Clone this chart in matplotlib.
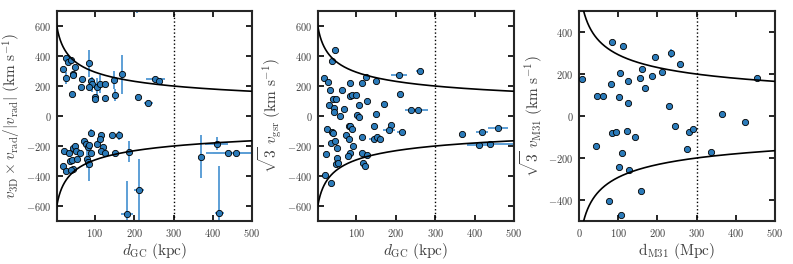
import matplotlib
matplotlib.use('Agg')
import matplotlib.pyplot as plt
import numpy as np

plt.rcParams['mathtext.fontset'] = 'cm'
plt.rcParams['font.family'] = 'serif'
plt.rcParams['font.serif'] = ['cmr10']
plt.rcParams['axes.formatter.use_mathtext'] = True
plt.rcParams['axes.unicode_minus'] = True

# panel 1: v3D * sign(vrad) vs dGC
x1 = [18, 27, 32, 38, 27, 43, 45, 49, 41, 67, 63, 85, 89, 91, 84, 99, 101, 105, 113, 125,
      125, 148, 152, 169, 210, 236, 254, 262, 207,
      21, 33, 19, 25, 35, 41, 45, 38, 45, 50, 51, 54, 61, 71, 78, 81, 85, 80, 82, 85,
      89, 89, 106, 114, 112, 120, 116, 126, 144, 151, 160, 186, 182, 212, 371, 410,
      440, 460, 417]
y1 = [316, 389, 360, 373, 256, 280, 271, 329, 147, 249, 196, 351, 233, 211, 191, 129, 111,
      193, 216, 216, 122, 240, 142, 278, 129, 85, 249, 236, 750,
      -233, -247, -333, -367, -300, -295, -355, -360, -211, -200, -235, -284, -247, -169,
      -189, -207, -191, -284, -307, -322, -111, -244, -184, -129, -155, -209, -233, -244,
      -129, -244, -129, -238, -655, -491, -271, -184, -244, -244, -644]
xerr1 = [0, 0, 0, 0, 0, 0, 0, 0, 0, 0, 0, 0, 0, 0, 0, 0, 0, 0, 0, 0,
         0, 0, 0, 0, 0, 12, 25, 8, 0,
         0, 0, 0, 0, 0, 0, 0, 0, 0, 0, 0, 0, 0, 0, 0, 0, 0, 0, 0, 0,
         0, 0, 0, 0, 0, 0, 0, 0, 0, 0, 0, 0, 15, 12, 0, 30,
         57, 60, 12]
yerr1 = [0, 0, 0, 0, 40, 0, 0, 0, 0, 0, 0, 90, 0, 50, 0, 0, 0, 60, 60, 0,
         0, 60, 40, 130, 0, 0, 0, 0, 60,
         0, 0, 0, 0, 0, 0, 0, 0, 0, 0, 0, 0, 0, 0, 0, 0, 0, 65, 0, 110,
         25, 0, 0, 0, 0, 0, 0, 0, 0, 0, 30, 70, 220, 207, 145, 45,
         0, 0, 310]

# panel 2: sqrt(3) vgsr vs dGC
x2 = [19, 28, 34, 30, 38, 46, 42, 49, 44, 44, 60, 65, 68, 85, 83, 90, 100, 106, 102, 107,
      114, 125, 126, 149, 170, 151, 209, 211, 262, 238, 257,
      27, 38, 42, 35, 45, 52, 52, 48, 54, 24, 21, 35, 73, 81, 85, 88, 81, 92, 85, 79,
      115, 115, 116, 123, 128, 144, 144, 152, 160, 187, 183, 215, 369, 418, 460, 410, 440]
y2 = [251, 227, 173, 76, 364, 440, 111, 116, 56, 29, -2, 171, 49, 222, 133, 140, 140, 76,
      4, -7, 222, 260, 98, 231, 82, 16, 271, 144, 300, 42, 38,
      -84, -104, -111, -178, -167, -216, -280, -318, -316, -253, -391, -447, -129, -67,
      -67, -89, -151, -200, -249, -264, -140, -249, -311, -333, -258, -69, -151, -140,
      -156, -58, -96, -107, -120, -104, -78, -191, -184]
xerr2 = [0, 0, 0, 0, 0, 0, 0, 0, 0, 0, 0, 0, 0, 0, 0, 6, 0, 0, 0, 0,
         0, 0, 0, 0, 0, 0, 20, 0, 10, 15, 25,
         0, 0, 0, 0, 0, 0, 0, 0, 0, 0, 0, 0, 0, 0, 0, 0, 0, 0, 0, 0,
         0, 0, 0, 0, 10, 0, 12, 0, 0, 0, 15, 12, 0, 15, 25, 30, 60]

# panel 3: sqrt(3) vM31 vs dM31
x3 = [7, 85, 113, 194, 236, 259, 82, 106, 124, 156, 160, 187, 213, 168, 46, 61, 102, 126,
      230, 455, 366, 424, 246, 281, 291, 85, 94, 122, 144, 43, 109, 277, 338, 103, 127,
      159, 78, 107]
y3 = [175, 354, 335, 281, 298, 246, 152, 206, 168, 183, 224, 190, 211, 135, 94, 94, 92, 60,
      49, 183, 10, -29, -46, -74, -60, -83, -78, -71, -98, -143, -178, -156, -171, -244,
      -257, -356, -403, -470]
yerr3 = [0, 0, 0, 0, 22, 0, 0, 0, 0, 0, 0, 0, 0, 0, 0, 0, 0, 0,
         0, 0, 0, 0, 0, 0, 0, 0, 0, 0, 0, 0, 0, 0, 0, 0, 0,
         0, 0, 0]

# escape velocity curve (NFW-like), normalised to 200 km/s at 300 kpc
r_s = 8.0
v_at_300 = 200.0


def vesc(r):
    f = np.log(1 + r / r_s) / r
    f300 = np.log(1 + 300 / r_s) / 300
    return v_at_300 * np.sqrt(f / f300)


pt_color = '#2b7bba'
err_color = '#5d9fd6'
txt_color = '0.25'

fig = plt.figure(figsize=(7.93, 2.64), dpi=100)
ax1 = fig.add_axes([0.0719, 0.163, 0.2459, 0.795])
ax2 = fig.add_axes([0.401, 0.163, 0.2472, 0.795])
ax3 = fig.add_axes([0.730, 0.163, 0.2472, 0.795])

rr = np.linspace(0.3, 500, 1000)

panels = [
    (ax1, x1, y1, xerr1, yerr1, 700),
    (ax2, x2, y2, xerr2, [0] * len(x2), 700),
    (ax3, x3, y3, [0] * len(x3), yerr3, 500),
]
for ax, xs, ys, xe, ye, ylim in panels:
    ax.errorbar(xs, ys, xerr=xe, yerr=ye, fmt='none', ecolor=err_color,
                elinewidth=1.4, capsize=0, zorder=2)
    ax.plot(xs, ys, 'o', ms=4.5, mfc=pt_color, mec='k', mew=0.6, zorder=3)
    ax.plot(rr, vesc(rr), 'k-', lw=1.2, zorder=4)
    ax.plot(rr, -vesc(rr), 'k-', lw=1.2, zorder=4)
    ax.axvline(300, color='k', ls=':', lw=1.0)
    ax.set_ylim(-ylim, ylim)
    ax.tick_params(direction='in', top=True, right=True, length=4.5, width=1.2,
                   labelsize=7.5, labelcolor=txt_color, pad=4)
    for s in ax.spines.values():
        s.set_linewidth(1.5)
        s.set_color('0.15')

for ax in (ax1, ax2):
    ax.set_xlim(3, 500)
    ax.set_xticks([100, 200, 300, 400, 500])
    ax.set_yticks([-600, -400, -200, 0, 200, 400, 600])
    ax.set_xlabel(r'$d_{\rm GC}\ ({\rm kpc})$', fontsize=11, color=txt_color, labelpad=2)

ax3.set_xlim(0, 500)
ax3.set_xticks([0, 100, 200, 300, 400, 500])
ax3.set_yticks([-400, -200, 0, 200, 400])
ax3.set_xlabel(r'${\rm d_{M31}\ (Mpc)}$', fontsize=11, color=txt_color, labelpad=2)

ax1.set_ylabel(r'$v_{\rm 3D}\times v_{\rm rad}/|v_{\rm rad}|\ ({\rm km\ s^{-1}})$',
               fontsize=11, color=txt_color, labelpad=2)
ax2.set_ylabel(r'$\sqrt{3}\ v_{\rm gsr}\ ({\rm km\ s^{-1}})$', fontsize=11,
               color=txt_color, labelpad=2)
ax3.set_ylabel(r'$\sqrt{3}\ v_{\rm M31}\ ({\rm km\ s^{-1}})$', fontsize=11,
               color=txt_color, labelpad=2)

fig.savefig('out.png', dpi=100)
